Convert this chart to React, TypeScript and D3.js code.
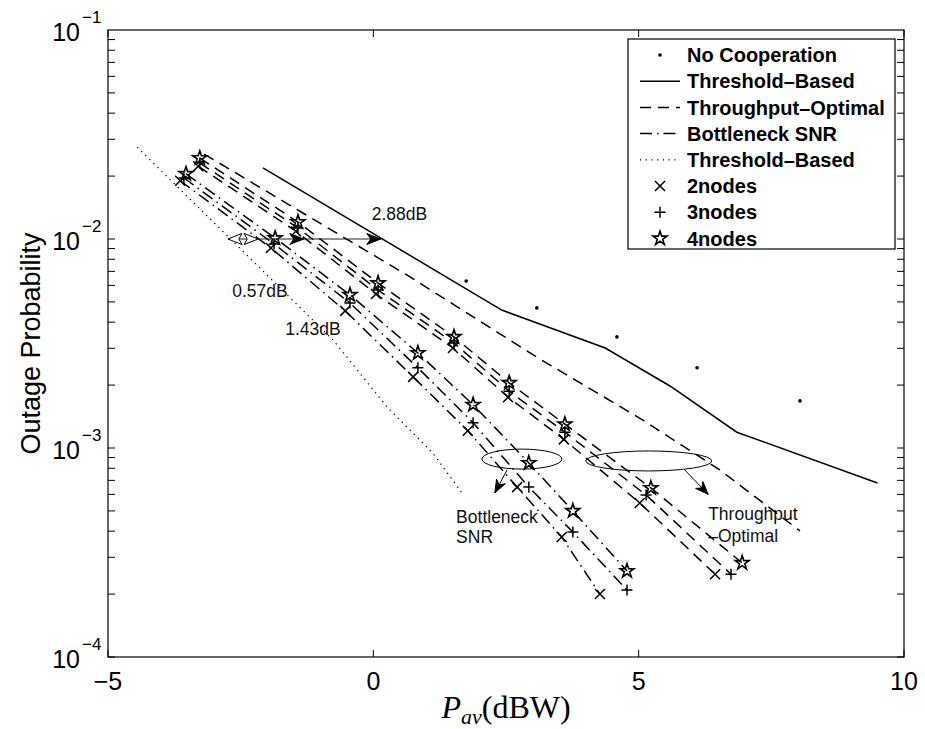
import { useEffect, useRef } from 'react';
import * as d3 from 'd3';

// values (x in dBW, y outage probability)
const noCoopX = [1.75, 3.08, 4.59, 6.10, 8.04];
const noCoopY = [6.29e-3, 4.68e-3, 3.40e-3, 2.42e-3, 1.68e-3];

const thrSolidX = [-2.08, 2.42, 4.37, 5.59, 6.85, 9.5];
const thrSolidY = [0.0219, 4.57e-3, 3.01e-3, 1.98e-3, 1.19e-3, 6.8e-4];

const tpoRefX = [-3.19, 0.63, 3.08, 5.08, 6.53, 8.04];
const tpoRefY = [0.0255, 6.73e-3, 2.72e-3, 1.36e-3, 7.85e-4, 4.01e-4];

const thrDotX = [-4.45, -0.76, 0.26, 1.12, 1.66];
const thrDotY = [0.0275, 3.29e-3, 1.57e-3, 9.46e-4, 6.15e-4];

const tpo4X = [-3.27, -1.42, 0.09, 1.52, 2.56, 3.61, 5.23, 6.95];
const tpo4Y = [0.0244, 0.01205, 6.15e-3, 3.40e-3, 2.05e-3, 1.30e-3, 6.44e-4, 2.82e-4];
const tpo3X = [-3.27, -1.42, 0.09, 1.52, 2.56, 3.61, 5.14, 6.74];
const tpo3Y = [0.0231, 0.0113, 5.70e-3, 3.18e-3, 1.87e-3, 1.19e-3, 5.96e-4, 2.49e-4];
const tpo2X = [-3.30, -1.46, 0.05, 1.50, 2.54, 3.59, 5.02, 6.44];
const tpo2Y = [0.0223, 0.0109, 5.46e-3, 3.01e-3, 1.75e-3, 1.10e-3, 5.46e-4, 2.49e-4];

const bn4X = [-3.53, -1.85, -0.44, 0.84, 1.88, 2.93, 3.76, 4.78];
const bn4Y = [0.0205, 0.0101, 5.40e-3, 2.85e-3, 1.61e-3, 8.48e-4, 5.00e-4, 2.58e-4];
const bn3X = [-3.57, -1.87, -0.44, 0.84, 1.88, 2.93, 3.76, 4.78];
const bn3Y = [0.0196, 9.46e-3, 4.94e-3, 2.42e-3, 1.32e-3, 6.50e-4, 3.96e-4, 2.09e-4];
const bn2X = [-3.64, -1.93, -0.53, 0.75, 1.78, 2.71, 3.55, 4.27];
const bn2Y = [0.0190, 9.06e-3, 4.53e-3, 2.19e-3, 1.21e-3, 6.50e-4, 3.75e-4, 2.0e-4];

const xTicks = [-5, 0, 5, 10];
const yDecades = [-4, -3, -2, -1];

const legendLabels = ['No Cooperation', 'Threshold\u2013Based', 'Throughput\u2013Optimal', 'Bottleneck SNR',
  'Threshold\u2013Based', '2nodes', '3nodes', '4nodes'];

// dB gaps marked at 10^-2, measured from the dotted curve
const gapStart = -2.74;
const gapValues = [0.57, 1.43, 2.88];

const FONT = "'Liberation Sans', Arial, Helvetica, sans-serif";
const DASH = '11,7';
const DASHDOT = '12,5,1.5,5';
const DOT = '1.2,4.5';

const App = () => {
  const ref = useRef<SVGSVGElement | null>(null);

  useEffect(() => {
    if (!ref.current) return;
    const svg = d3.select(ref.current);
    svg.selectAll('*').remove();

    const margin = { top: 30, right: 21, bottom: 72, left: 108 };
    const width = 925, height = 729;

    const x = d3.scaleLinear().domain([-5, 10]).range([margin.left, width - margin.right]);
    const y = d3.scaleLog().domain([1e-4, 1e-1]).range([height - margin.bottom, margin.top]);
    const x0 = x.range()[0], x1 = x.range()[1], y0 = y.range()[0], y1 = y.range()[1];

    svg.append('rect').attr('width', width).attr('height', height).attr('fill', 'white');

    // ticks (inside, all four sides)
    const tl = 7;
    const axes = svg.append('g').attr('stroke', 'black').attr('stroke-width', 1);
    xTicks.forEach(t => {
      axes.append('line').attr('x1', x(t)).attr('x2', x(t)).attr('y1', y0).attr('y2', y0 - tl);
      axes.append('line').attr('x1', x(t)).attr('x2', x(t)).attr('y1', y1).attr('y2', y1 + tl);
    });
    for (let d = -4; d < -1; d++) {
      for (let m = 1; m < 10; m++) {
        const v = m * Math.pow(10, d);
        axes.append('line').attr('x1', x0).attr('x2', x0 + tl).attr('y1', y(v)).attr('y2', y(v));
        axes.append('line').attr('x1', x1).attr('x2', x1 - tl).attr('y1', y(v)).attr('y2', y(v));
      }
    }

    // tick labels
    xTicks.forEach(t => {
      svg.append('text').attr('x', x(t)).attr('y', y0 + 33)
        .attr('text-anchor', 'middle').attr('font-family', FONT).attr('font-size', 25)
        .text(t < 0 ? '\u2212' + Math.abs(t) : String(t));
    });
    yDecades.forEach(d => {
      const yy = y(Math.pow(10, d));
      svg.append('text').attr('x', x0 - 28).attr('y', yy + 11)
        .attr('text-anchor', 'end').attr('font-family', FONT).attr('font-size', 25).text('10');
      svg.append('text').attr('x', x0 - 26).attr('y', yy - 7)
        .attr('font-family', FONT).attr('font-size', 17).text('\u2212' + Math.abs(d));
    });

    // axis titles
    const xl = svg.append('text').attr('x', (x0 + x1) / 2).attr('y', 718)
      .attr('text-anchor', 'middle').attr('font-family', "'Liberation Serif', 'Times New Roman', serif")
      .attr('font-size', 32);
    xl.append('tspan').attr('font-style', 'italic').text('P');
    xl.append('tspan').attr('font-style', 'italic').attr('font-size', 22).attr('dy', 6).text('av');
    xl.append('tspan').attr('dy', -6).text('(dBW)');

    svg.append('text').attr('transform', `translate(40,${(y0 + y1) / 2}) rotate(-90)`)
      .attr('text-anchor', 'middle').attr('font-family', FONT).attr('font-size', 27)
      .text('Outage Probability');

    const plot = svg.append('g');
    const line = d3.line<[number, number]>().x(d => x(d[0])).y(d => y(d[1]));
    const pts = (xs: number[], ys: number[]) => xs.map((v, i) => [v, ys[i]] as [number, number]);

    const drawLine = (xs: number[], ys: number[], dash: string | null, w = 1.5) => {
      plot.append('path').attr('d', line(pts(xs, ys)))
        .attr('fill', 'none').attr('stroke', 'black').attr('stroke-width', w)
        .attr('stroke-dasharray', dash);
    };

    drawLine(thrSolidX, thrSolidY, null);
    drawLine(tpoRefX, tpoRefY, DASH);
    drawLine(thrDotX, thrDotY, DOT, 1.3);
    drawLine(tpo4X, tpo4Y, DASH);
    drawLine(tpo3X, tpo3Y, DASH);
    drawLine(tpo2X, tpo2Y, DASH);
    drawLine(bn4X, bn4Y, DASHDOT);
    drawLine(bn3X, bn3Y, DASHDOT);
    drawLine(bn2X, bn2Y, DASHDOT);

    // markers
    const star = d3.symbol().type(d3.symbolStar).size(60)();
    const cross = (g: any, cx: number, cy: number, r: number) => {
      g.append('path').attr('d', `M${cx - r},${cy - r}L${cx + r},${cy + r}M${cx - r},${cy + r}L${cx + r},${cy - r}`)
        .attr('stroke', 'black').attr('stroke-width', 1.5).attr('fill', 'none');
    };
    const plus = (g: any, cx: number, cy: number, r: number) => {
      g.append('path').attr('d', `M${cx - r},${cy}L${cx + r},${cy}M${cx},${cy - r}L${cx},${cy + r}`)
        .attr('stroke', 'black').attr('stroke-width', 1.5).attr('fill', 'none');
    };
    const starAt = (g: any, cx: number, cy: number) => {
      g.append('path').attr('d', star).attr('transform', `translate(${cx},${cy})`)
        .attr('fill', 'none').attr('stroke', 'black').attr('stroke-width', 1.6);
    };

    [tpo2X, bn2X].forEach((xs, k) => {
      const ys = k === 0 ? tpo2Y : bn2Y;
      xs.forEach((v, i) => cross(plot, x(v), y(ys[i]), 5));
    });
    [tpo3X, bn3X].forEach((xs, k) => {
      const ys = k === 0 ? tpo3Y : bn3Y;
      xs.forEach((v, i) => plus(plot, x(v), y(ys[i]), 5.5));
    });
    [tpo4X, bn4X].forEach((xs, k) => {
      const ys = k === 0 ? tpo4Y : bn4Y;
      xs.forEach((v, i) => starAt(plot, x(v), y(ys[i])));
    });
    noCoopX.forEach((v, i) => {
      plot.append('circle').attr('cx', x(v)).attr('cy', y(noCoopY[i])).attr('r', 1.8).attr('fill', 'black');
    });

    // annotations
    const ann = svg.append('g');
    const head = (tx: number, ty: number, ang: number, L = 14, hw = 5.5, notch = 4, fill = 'black') => {
      const c = Math.cos(ang), s = Math.sin(ang);
      const bx = tx - L * c, by = ty - L * s;
      const p = [
        [tx, ty],
        [bx - hw * s, by + hw * c],
        [tx - (L - notch) * c, ty - (L - notch) * s],
        [bx + hw * s, by - hw * c],
      ];
      ann.append('path').attr('d', 'M' + p.map(q => q.join(',')).join('L') + 'Z')
        .attr('fill', fill).attr('stroke', 'black').attr('stroke-width', 1);
    };

    const ay = y(0.01);
    ann.append('line').attr('x1', x(gapStart)).attr('x2', x(gapStart + gapValues[2]))
      .attr('y1', ay).attr('y2', ay).attr('stroke', '#222').attr('stroke-width', 1);
    head(x(gapStart), ay, Math.PI, 14, 5.5, 3, 'white');
    gapValues.forEach((g, i) => head(x(gapStart + g), ay, 0, 14, 5.5, i === 0 ? 3 : 4, i === 0 ? 'white' : 'black'));

    const label = (t: string, px: number, py: number) => {
      ann.append('text').attr('x', x(px)).attr('y', y(py)).attr('font-family', FONT)
        .attr('font-size', 17.5).attr('fill', '#111').text(t);
    };
    label('2.88dB', -0.03, 0.01233);
    label('0.57dB', -2.66, 5.27e-3);
    label('1.43dB', -1.66, 3.47e-3);
    label('Bottleneck', 1.56, 4.38e-4);
    label('SNR', 1.56, 3.51e-4);
    label('Throughput', 6.31, 4.53e-4);
    label('\u2013Optimal', 6.31, 3.55e-4);

    // ellipses with arrows
    const ellipse = (cx: number, cy: number, rx: number, ry: number) => {
      ann.append('ellipse').attr('cx', x(cx)).attr('cy', y(cy)).attr('rx', rx).attr('ry', ry)
        .attr('fill', 'none').attr('stroke', 'black').attr('stroke-width', 1);
    };
    ellipse(2.80, 8.85e-4, 40, 10);
    ellipse(5.19, 8.67e-4, 63, 10);
    const arrow = (fx: number, fy: number, tx: number, ty: number) => {
      const ax = x(fx), ay2 = y(fy), bx = x(tx), by = y(ty);
      ann.append('line').attr('x1', ax).attr('y1', ay2).attr('x2', bx).attr('y2', by)
        .attr('stroke', 'black').attr('stroke-width', 1);
      head(bx, by, Math.atan2(by - ay2, bx - ax), 13, 5, 4);
    };
    arrow(2.52, 7.85e-4, 2.29, 6.1e-4);
    arrow(5.87, 7.85e-4, 6.31, 6.0e-4);

    // axis box
    svg.append('rect').attr('x', x0).attr('y', y1).attr('width', x1 - x0).attr('height', y0 - y1)
      .attr('fill', 'none').attr('stroke', 'black').attr('stroke-width', 1.2);

    // legend
    const lg = svg.append('g');
    const lx = 628, ly = 39, lw = 267, lh = 210, row = 26.2;
    lg.append('rect').attr('x', lx).attr('y', ly).attr('width', lw).attr('height', lh)
      .attr('fill', 'white').attr('stroke', 'black').attr('stroke-width', 1.2);
    const styles = [null, 'solid', DASH, DASHDOT, DOT];
    legendLabels.forEach((t, i) => {
      const cy = ly + 16 + i * row;
      const sx0 = lx + 12, sx1 = lx + 52, mx = (sx0 + sx1) / 2;
      if (i === 0) lg.append('circle').attr('cx', mx).attr('cy', cy).attr('r', 1.8).attr('fill', 'black');
      else if (i < 5) {
        lg.append('line').attr('x1', sx0).attr('x2', sx1).attr('y1', cy).attr('y2', cy)
          .attr('stroke', 'black').attr('stroke-width', i === 4 ? 1.3 : 1.5)
          .attr('stroke-dasharray', styles[i] === 'solid' ? null : styles[i]);
      } else if (i === 5) cross(lg, mx, cy, 5);
      else if (i === 6) plus(lg, mx, cy, 5.5);
      else lg.append('path').attr('d', star).attr('transform', `translate(${mx},${cy})`)
        .attr('fill', 'none').attr('stroke', 'black').attr('stroke-width', 1.6);
      lg.append('text').attr('x', lx + 59).attr('y', cy).attr('dy', '0.36em')
        .attr('font-family', FONT).attr('font-weight', 'bold').attr('font-size', 20).text(t);
    });
  }, []);

  return (
    <svg ref={ref} width={925} height={729}
      style={{ position: 'absolute', left: 0, top: 0, display: 'block' }} />
  );
};

export default App;
